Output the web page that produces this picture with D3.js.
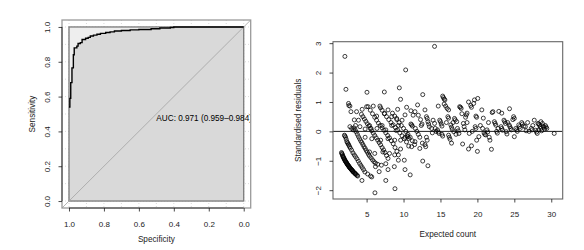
<!DOCTYPE html>
<html><head><meta charset="utf-8">
<script src="https://cdn.jsdelivr.net/npm/d3@7"></script>
<style>
body{margin:0;background:#fff;}
svg{display:block;font-family:"Liberation Sans",Arial,Helvetica,sans-serif;}
</style>
</head><body>
<svg id="chart" width="584" height="250"></svg>
<script>
// ---------- data ----------
const rocSpecificity = [1.000,0.995,0.995,0.990,0.990,0.983,0.983,0.975,0.975,0.970,0.970,0.955,0.955,0.948,0.948,0.935,0.935,0.925,0.925,0.905,0.905,0.890,0.890,0.878,0.878,0.860,0.860,0.840,0.840,0.820,0.820,0.790,0.790,0.765,0.765,0.740,0.740,0.700,0.700,0.650,0.650,0.600,0.600,0.530,0.530,0.480,0.480,0.420,0.420,0.400,0.400,0.000];
const rocSensitivity = [0.540,0.540,0.590,0.590,0.680,0.680,0.765,0.765,0.840,0.840,0.880,0.880,0.890,0.890,0.905,0.905,0.910,0.910,0.928,0.928,0.935,0.935,0.940,0.940,0.948,0.948,0.953,0.953,0.958,0.958,0.963,0.963,0.968,0.968,0.972,0.972,0.977,0.977,0.980,0.980,0.983,0.983,0.985,0.985,0.990,0.990,0.994,0.994,0.997,0.997,1.000,1.000];
const rocTicks = [1.0,0.8,0.6,0.4,0.2,0.0];
const rocGrid = [0,0.1,0.2,0.3,0.4,0.5,0.6,0.7,0.8,0.9,1.0];
const aucLabel = "AUC: 0.971 (0.959\u20130.984)";
const rocXTitle = "Specificity";
const rocYTitle = "Sensitivity";

const residualPoints = [
 // lowest band
 [1.6,-0.72],[1.65,-0.75],[1.7,-0.78],[1.75,-0.82],[1.8,-0.85],[1.85,-0.88],[1.9,-0.9],[1.95,-0.93],[2.0,-0.95],[2.05,-0.98],[2.1,-1.0],[2.15,-1.02],[2.2,-1.04],[2.25,-1.06],[2.3,-1.08],[2.35,-1.1],[2.4,-1.12],[2.45,-1.14],[2.5,-1.16],[2.55,-1.17],[2.6,-1.19],[2.65,-1.21],[2.7,-1.23],[2.75,-1.24],[2.8,-1.26],[2.9,-1.29],[2.95,-1.3],[3.0,-1.31],[3.05,-1.33],[3.1,-1.35],[3.15,-1.36],[3.2,-1.38],[3.3,-1.4],[3.4,-1.42],[3.45,-1.44],[3.5,-1.45],[3.6,-1.47],[3.7,-1.5],[3.8,-1.52],
 // second band
 [2.0,-0.13],[2.06,-0.16],[2.15,-0.2],[2.24,-0.27],[2.33,-0.35],[2.42,-0.39],[2.51,-0.43],[2.6,-0.47],[2.69,-0.52],[2.8,-0.57],[2.97,-0.64],[3.15,-0.73],[3.33,-0.8],[3.5,-0.86],[3.69,-0.93],[3.87,-1.01],[4.05,-1.09],[4.23,-1.16],[4.41,-1.23],[4.59,-1.3],[4.77,-1.38],[5.14,-1.45],[5.54,-1.52],
 // upper left
 [2.06,2.55],[2.2,1.43],[2.55,0.95],[2.6,0.88],[2.74,0.86],[2.88,0.67],[2.74,0.16],[2.97,0.1],[3.33,0.39],[3.64,0.67],[3.2,0.05],[3.5,0.2],[3.9,0.38],
 // third band
 [3.3,0.12],[3.45,0.05],[3.6,-0.02],[3.75,-0.1],[3.9,-0.18],[4.05,-0.25],[4.2,-0.32],[4.35,-0.38],[4.5,-0.45],[4.65,-0.52],[4.8,-0.58],[4.95,-0.65],[5.1,-0.71],[5.25,-0.78],[5.4,-0.84],[5.6,-0.9],[5.8,-0.97],[6.0,-1.03],[6.2,-1.08],[6.5,-1.12],
 // fourth band
 [4.3,0.58],[4.5,0.5],[4.7,0.42],[4.9,0.34],[5.1,0.26],[5.3,0.18],[5.5,0.1],[5.7,0.02],[5.9,-0.06],[6.1,-0.14],[6.3,-0.22],[6.5,-0.3],[6.7,-0.38],[6.9,-0.46],[7.1,-0.55],[7.3,-0.63],[7.5,-0.72],[7.7,-0.82],[7.9,-0.92],
 // fifth band
 [5.2,0.84],[5.5,0.72],[5.8,0.6],[6.1,0.48],[6.35,0.38],[6.6,0.28],[6.85,0.2],[7.1,0.12],[7.35,0.04],[7.6,-0.05],[7.85,-0.14],[8.1,-0.22],[8.35,-0.32],[8.6,-0.42],[8.85,-0.55],[9.1,-0.68],[9.3,-0.8],
 // sixth band
 [6.8,0.86],[6.9,0.8],[7.1,0.72],[7.4,0.6],[7.7,0.5],[8.0,0.4],[8.3,0.3],[8.6,0.22],[8.9,0.13],[9.2,0.05],[9.5,-0.05],[9.8,-0.15],[10.1,-0.25],[10.4,-0.36],[10.7,-0.5],
 // seventh band
 [8.5,0.62],[8.8,0.52],[9.1,0.4],[9.4,0.3],[9.7,0.2],[10.0,0.1],[10.3,0.0],[10.6,-0.1],[10.9,-0.2],[11.2,-0.32],[11.5,-0.45],
 // scattered 4-10
 [4.4,0.75],[5.0,0.84],[5.05,1.33],[5.4,0.2],[5.9,0.86],[6.36,0.52],[7.4,1.34],[7.44,0.61],[7.9,0.73],[8.4,0.5],[9.07,0.44],[9.2,0.75],[9.43,1.48],[9.6,1.09],[9.8,0.38],[10.2,0.56],[10.42,0.82],
 [4.1,0.16],[4.8,0.08],[5.6,0.1],[6.4,0.1],[7.1,0.2],[7.6,0.05],[8.4,0.2],[9.0,0.03],[9.3,0.2],
 [4.8,-0.2],[5.7,-0.25],[6.9,-0.3],[7.9,-0.25],[8.8,-0.3],[9.6,-0.3],[10.2,-0.2],
 [5.4,-0.7],[6.1,-0.75],[7.2,-0.7],[8.1,-0.75],[8.8,-0.8],[9.6,-0.6],[9.3,-0.98],
 [6.2,-1.2],[7.0,-1.15],[7.6,-1.1],[8.75,-1.2],[7.9,-1.3],[6.7,-1.37],[5.7,-1.55],
 [6.13,-2.09],[8.84,-1.95],[4.37,-1.67],[7.6,-1.67],[10.9,-1.48],[13.3,-1.17],[12.6,-1.01],[10.2,-1.3],[10.1,-0.98],
 // 10-15
 [10.5,-0.15],[10.6,-0.18],[10.7,-0.24],[11.0,0.25],[11.1,0.22],[11.2,0.18],[11.3,0.55],[11.55,0.67],[11.9,0.9],[11.6,0.1],[11.8,0.0],[12.0,-0.1],[12.2,-0.2],[12.4,0.2],[12.5,0.25],[12.6,1.25],[12.9,0.73],[13.1,0.5],[13.2,0.44],[13.3,0.33],[13.4,0.25],[13.5,0.16],[13.1,-0.2],[13.2,-0.3],[12.9,-0.45],[13.0,-0.52],[14.0,0.38],[14.2,0.27],[14.3,0.1],[14.4,0.0],[14.2,2.89],[14.6,0.05],[14.7,-0.02],[14.8,-0.07],[14.9,0.38],[15.0,0.33],[15.1,0.25],[15.2,0.18],[14.7,0.86],[15.2,-0.1],[15.3,-0.16],[11.1,-0.52],[11.55,-0.35],[12.55,-0.4],[12.2,-0.58],[11.0,0.7],[12.0,0.55],[12.3,0.4],[13.8,0.1],[13.9,-0.05],[10.29,2.09],
 // 15-20
 [15.3,1.2],[15.4,1.15],[15.5,1.1],[15.6,1.07],[15.5,0.93],[15.7,0.86],[15.9,0.78],[16.1,0.73],[16.0,0.5],[16.1,0.45],[16.1,-0.13],[16.2,-0.2],[16.3,-0.27],[16.4,0.22],[16.5,0.14],[16.6,0.07],[16.8,-0.01],[16.5,-0.4],[16.9,0.44],[17.0,0.39],[17.2,0.33],[17.3,0.1],[17.4,0.02],[17.5,-0.07],[17.6,0.84],[17.7,0.82],[17.8,0.78],[17.9,0.6],[18.0,-0.43],[18.1,0.27],[18.2,0.16],[18.3,0.05],[18.4,0.48],[18.5,0.56],[18.6,0.62],[18.8,1.0],[18.9,-0.07],[18.8,-0.6],[19.1,0.88],[19.2,0.82],[19.2,-0.49],[19.5,0.95],[19.6,1.07],[19.8,0.52],[19.9,0.48],[19.7,0.16],[19.8,0.1],[20.05,1.12],[20.0,-0.68],[19.9,-0.3],[15.8,0.3],[16.7,0.3],[17.1,-0.1],[18.6,0.3],[19.3,0.0],
 // 20-25
 [20.2,-0.18],[20.6,0.73],[20.8,0.45],[20.9,-0.05],[21.0,-0.1],[21.1,-0.12],[21.3,0.05],[21.4,-0.02],[21.6,-0.2],[21.7,-0.3],[21.9,-0.61],[22.0,0.64],[22.1,0.67],[22.3,0.33],[22.4,0.27],[22.5,0.21],[22.6,0.0],[22.7,-0.06],[22.9,0.68],[23.2,0.16],[23.3,0.1],[23.4,0.04],[23.3,0.62],[23.6,0.38],[23.7,0.33],[23.8,0.27],[23.9,-0.01],[24.0,-0.09],[24.3,0.22],[24.4,0.16],[24.5,0.1],[24.35,0.77],[24.8,0.4],[24.9,0.5],[25.0,0.44],[25.0,-0.18],[20.4,0.2],[21.5,0.3],[22.8,0.1],[24.1,0.3],[24.6,0.05],[20.7,0.1],
 // 25-31
 [25.2,0.1],[25.3,0.05],[25.4,0.0],[25.6,0.22],[25.7,0.16],[25.8,0.1],[26.0,0.3],[26.1,0.25],[26.3,0.18],[26.5,0.16],[26.6,0.02],[27.0,0.0],[27.3,0.1],[27.4,0.05],[27.7,0.38],[27.9,0.04],[28.0,-0.02],[28.1,-0.07],[28.2,0.27],[28.3,0.25],[28.4,0.22],[28.5,0.16],[28.6,0.1],[28.7,0.02],[28.6,0.33],[28.8,0.27],[28.9,0.18],[29.0,0.14],[29.1,0.08],[29.2,0.2],[29.3,0.15],[29.4,0.1],[30.4,-0.07],[26.8,0.3],[28.3,0.05],[27.5,0.2]
];
const residXTicks = [5,10,15,20,25,30];
const residYTicks = [-2,-1,0,1,2,3];
const residXTitle = "Expected count";
const residYTitle = "Standardised residuals";

// ---------- drawing ----------
const svg = d3.select("#chart");
const tickFont = 8;
const titleFont = 8.2;
const ink = "#1a1a1a";

// ===== Left panel: ROC =====
const L = {left:62, right:250.7, top:20, bottom:208};
const xL = d3.scaleLinear().domain([1.04,-0.04]).range([L.left,L.right]);
const yL = d3.scaleLinear().domain([-0.04,1.04]).range([L.bottom,L.top]);

svg.append("clipPath").attr("id","clipL").append("rect")
  .attr("x",L.left).attr("y",L.top).attr("width",L.right-L.left).attr("height",L.bottom-L.top);
const gL = svg.append("g").attr("clip-path","url(#clipL)");

// grid
gL.selectAll("line.gv").data(rocGrid).join("line")
  .attr("x1",d=>xL(d)).attr("x2",d=>xL(d)).attr("y1",L.top).attr("y2",L.bottom)
  .attr("stroke","#cfcfcf").attr("stroke-width",0.8).attr("stroke-dasharray","1,2");
gL.selectAll("line.gh").data(rocGrid).join("line")
  .attr("y1",d=>yL(d)).attr("y2",d=>yL(d)).attr("x1",L.left).attr("x2",L.right)
  .attr("stroke","#cfcfcf").attr("stroke-width",0.8).attr("stroke-dasharray","1,2");

// max AUC polygon (full square)
gL.append("rect")
  .attr("x",xL(1)).attr("y",yL(1)).attr("width",xL(0)-xL(1)).attr("height",yL(0)-yL(1))
  .attr("fill","#eeeeee");

// AUC polygon
const rocPts = rocSpecificity.map((s,i)=>[s,rocSensitivity[i]]);
const polyPts = rocPts.concat([[0,0],[1,0]]);
gL.append("path")
  .attr("d", d3.line().x(d=>xL(d[0])).y(d=>yL(d[1]))(polyPts)+"Z")
  .attr("fill","#d9d9d9");

// border of square
gL.append("rect")
  .attr("x",xL(1)).attr("y",yL(1)).attr("width",xL(0)-xL(1)).attr("height",yL(0)-yL(1))
  .attr("fill","none").attr("stroke","#7a7a7a").attr("stroke-width",1.3);

// identity line
gL.append("line")
  .attr("x1",xL(1.04)).attr("y1",yL(-0.04)).attr("x2",xL(-0.04)).attr("y2",yL(1.04))
  .attr("stroke","#a9a9a9").attr("stroke-width",0.9);

// ROC curve
gL.append("path")
  .attr("d", d3.line().x(d=>xL(d[0])).y(d=>yL(d[1]))(rocPts))
  .attr("fill","none").attr("stroke","#000").attr("stroke-width",1.4);

// AUC text
gL.append("text").attr("x",xL(0.5)).attr("y",yL(0.5)+6.6)
  .attr("font-size",8.2).attr("fill","#000").text(aucLabel);

// box
svg.append("rect").attr("x",L.left).attr("y",L.top).attr("width",L.right-L.left).attr("height",L.bottom-L.top)
  .attr("fill","none").attr("stroke","#9a9a9a").attr("stroke-width",1.3);

// axes
function styleAxis(g){
  g.select(".domain").remove();
  g.selectAll(".tick line").attr("stroke",ink).attr("stroke-width",0.8);
  g.selectAll(".tick text").attr("font-size",tickFont).attr("fill",ink).attr("font-family",null);
}
const axBL = svg.append("g").attr("transform",`translate(0,${L.bottom})`)
  .call(d3.axisBottom(xL).tickValues(rocTicks).tickFormat(d3.format(".1f")).tickSize(3.5).tickSizeOuter(0));
styleAxis(axBL);
axBL.selectAll(".tick text").attr("y",19).attr("dy",0);
axBL.append("line").attr("x1",xL(1)).attr("x2",xL(0)).attr("stroke",ink).attr("stroke-width",0.8);

const axLL = svg.append("g").attr("transform",`translate(${L.left},0)`)
  .call(d3.axisLeft(yL).tickValues([0,0.2,0.4,0.6,0.8,1.0]).tickFormat(d3.format(".1f")).tickSize(3.5).tickSizeOuter(0));
styleAxis(axLL);
axLL.selectAll(".tick text").attr("transform","rotate(-90)").attr("x",0).attr("y",-12).attr("dy",0).attr("text-anchor","middle");
axLL.append("line").attr("y1",yL(0)).attr("y2",yL(1)).attr("stroke",ink).attr("stroke-width",0.8);

svg.append("text").attr("x",(L.left+L.right)/2).attr("y",241.8).attr("text-anchor","middle")
  .attr("font-size",titleFont).attr("fill",ink).text(rocXTitle);
svg.append("text").attr("transform",`translate(35.2,${(L.top+L.bottom)/2}) rotate(-90)`).attr("text-anchor","middle")
  .attr("font-size",titleFont).attr("fill",ink).text(rocYTitle);

// ===== Right panel: residuals =====
const R = {left:333, right:562.7, top:41.7, bottom:199};
const xR = d3.scaleLinear().domain([0.45,31.55]).range([R.left,R.right]);
const yR = d3.scaleLinear().domain([-2.3,3.05]).range([R.bottom,R.top]);

svg.append("clipPath").attr("id","clipR").append("rect")
  .attr("x",R.left).attr("y",R.top).attr("width",R.right-R.left).attr("height",R.bottom-R.top);
const gR = svg.append("g").attr("clip-path","url(#clipR)");

gR.selectAll("circle").data(residualPoints).join("circle")
  .attr("cx",d=>xR(d[0])).attr("cy",d=>yR(d[1])).attr("r",2.0)
  .attr("fill","none").attr("stroke","#000").attr("stroke-width",0.75);

gR.append("line").attr("x1",R.left).attr("x2",R.right).attr("y1",yR(0)).attr("y2",yR(0))
  .attr("stroke","#000").attr("stroke-width",0.9);

svg.append("rect").attr("x",R.left).attr("y",R.top).attr("width",R.right-R.left).attr("height",R.bottom-R.top)
  .attr("fill","none").attr("stroke","#666").attr("stroke-width",1.1);

const axBR = svg.append("g").attr("transform",`translate(0,${R.bottom})`)
  .call(d3.axisBottom(xR).tickValues(residXTicks).tickFormat(d3.format("d")).tickSize(3.5).tickSizeOuter(0));
styleAxis(axBR);
axBR.selectAll(".tick text").attr("y",18.2).attr("dy",0);

const axLR = svg.append("g").attr("transform",`translate(${R.left},0)`)
  .call(d3.axisLeft(yR).tickValues(residYTicks).tickFormat(d3.format("d")).tickSize(3.5).tickSizeOuter(0));
styleAxis(axLR);
axLR.selectAll(".tick text").attr("transform","rotate(-90)").attr("x",0).attr("y",-12).attr("dy",0).attr("text-anchor","middle");

svg.append("text").attr("x",(R.left+R.right)/2).attr("y",236.6).attr("text-anchor","middle")
  .attr("font-size",titleFont).attr("fill",ink).text(residXTitle);
svg.append("text").attr("transform",`translate(300.6,${(R.top+R.bottom)/2}) rotate(-90)`).attr("text-anchor","middle")
  .attr("font-size",titleFont).attr("fill",ink).text(residYTitle);
</script>
</body></html>
